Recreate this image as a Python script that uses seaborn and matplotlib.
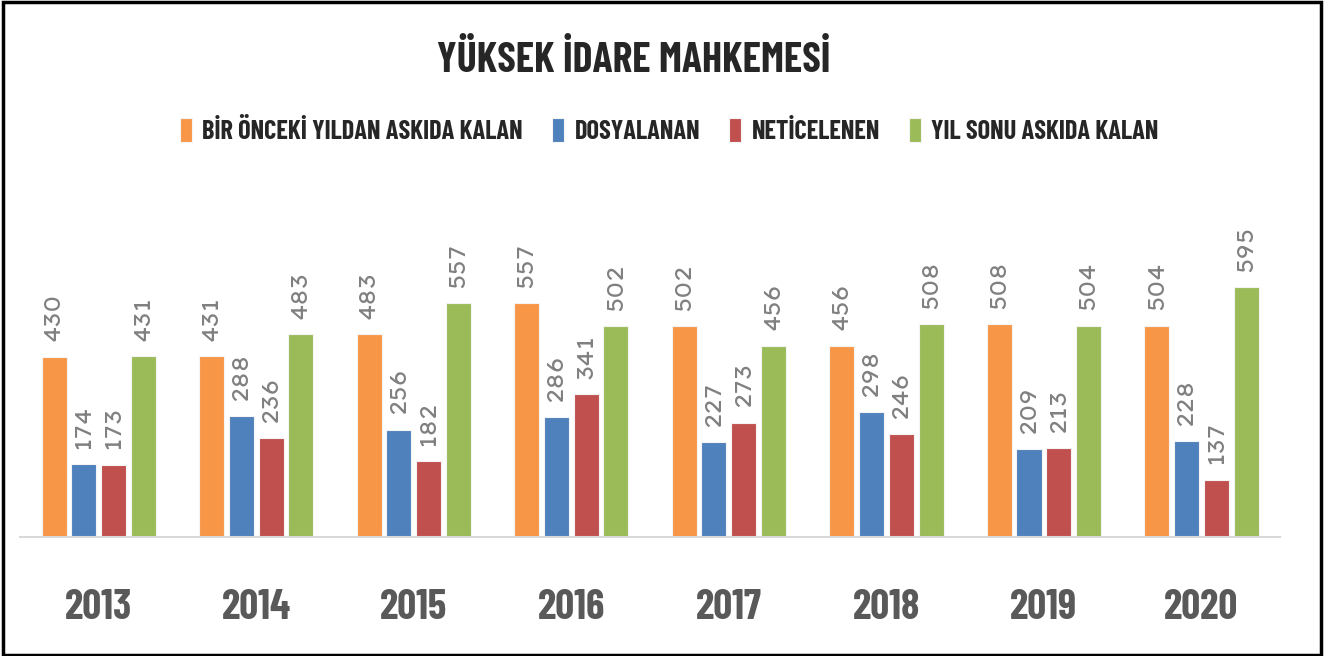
import matplotlib
matplotlib.use('Agg')

import pandas as pd
import matplotlib.pyplot as plt
import seaborn as sns
from matplotlib.patches import Rectangle

years = ['2013', '2014', '2015', '2016', '2017', '2018', '2019', '2020']
series = ['BİR ÖNCEKİ YILDAN ASKIDA KALAN', 'DOSYALANAN', 'NETİCELENEN', 'YIL SONU ASKIDA KALAN']
onceki = [430, 431, 483, 557, 502, 456, 508, 504]
dosyalanan = [174, 288, 256, 286, 227, 298, 209, 228]
neticelenen = [173, 236, 182, 341, 273, 246, 213, 137]
yil_sonu = [431, 483, 557, 502, 456, 508, 504, 595]
colors = ['#F79646', '#4F81BD', '#C0504D', '#9BBB59']

rows = []
for name, vals in zip(series, [onceki, dosyalanan, neticelenen, yil_sonu]):
    for y, v in zip(years, vals):
        rows.append({'yil': y, 'seri': name, 'deger': v})
df = pd.DataFrame(rows)

sns.set_style('white')
narrow = ['Barlow Condensed', 'Asap Condensed', 'DejaVu Sans']
wide = ['Lexend Giga', 'DejaVu Sans']

fig = plt.figure(figsize=(13.28, 6.56), dpi=100)
ax = fig.add_axes([0.015, 0.181, 0.949, 0.545])

sns.barplot(data=df, x='yil', y='deger', hue='seri', palette=colors, saturation=1,
            width=0.756, gap=0.16, edgecolor='#f4f4f4', linewidth=0.8, ax=ax)

for cont in ax.containers:
    ax.bar_label(cont, rotation=90, padding=11, color='#808080', fontsize=16.5, family=wide)

ax.set_ylim(0, 851)
ax.set_xlim(-0.5, 7.5)
ax.set_yticks([])
ax.set_xlabel('')
ax.set_ylabel('')
for s in ['top', 'left', 'right']:
    ax.spines[s].set_visible(False)
ax.spines['bottom'].set_color('#d9d9d9')
ax.spines['bottom'].set_linewidth(1.5)
ax.tick_params(axis='x', length=0, pad=37)
for lbl in ax.get_xticklabels():
    lbl.set_fontsize(30)
    lbl.set_fontweight('bold')
    lbl.set_color('#595959')
    lbl.set_family(narrow)

handles, labels = ax.get_legend_handles_labels()
ax.legend(handles, labels, loc='center', bbox_to_anchor=(0.504, 0.80),
          bbox_transform=fig.transFigure, ncol=4, frameon=False,
          handlelength=0.45, handleheight=1.0, handletextpad=0.4, columnspacing=1.1,
          prop={'family': narrow, 'size': 19, 'weight': 'bold'})

fig.text(0.477, 0.908, 'YÜKSEK İDARE MAHKEMESİ', ha='center', va='center',
         fontsize=30, fontweight='bold', family=narrow)

fig.patches.append(Rectangle((0.002, 0.002), 0.993, 0.995, transform=fig.transFigure,
                             fill=False, edgecolor='black', linewidth=2.5))

fig.savefig('out.png', dpi=100)
